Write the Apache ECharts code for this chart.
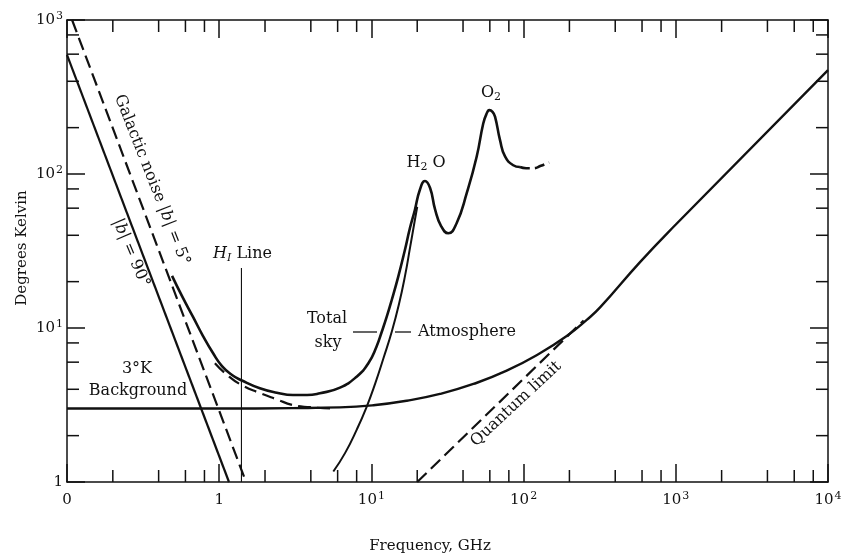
<!DOCTYPE html>
<html>
<head>
<meta charset="utf-8">
<script src="https://cdn.jsdelivr.net/npm/echarts@6/dist/echarts.min.js"></script>
<style>
  html, body { margin: 0; padding: 0; background: #ffffff; }
  #chart { width: 851px; height: 559px; }
</style>
</head>
<body>
<div id="chart"></div>
<script>
// Sky noise temperature versus frequency (log-log).
const INK = '#111111';
const FONT = '"DejaVu Serif", "Liberation Serif", serif';

// Axis ranges: frequency in GHz, temperature in kelvin
const freqRange = [0.1, 10000];
const tempRange = [1, 1000];

// Minor tick positions (2, 4, 6, 8 of every decade)
const xMinorTicks = [0.2, 0.4, 0.6, 0.8, 2, 4, 6, 8, 20, 40, 60, 80,
                     200, 400, 600, 800, 2000, 4000, 6000, 8000];
const yMinorTicks = [2, 4, 6, 8, 20, 40, 60, 80, 200, 400, 600, 800];

// Galactic noise toward the pole, |b| = 90 deg
const galacticPole = [[0.1, 593], [1.16, 1]];

// Galactic noise near the plane, |b| = 5 deg
const galacticPlane = [[0.108, 1000], [1.50, 1]];

// Galactic (|b| = 5 deg) plus 3 K background, no atmosphere
const galacticPlusBackground = [
  [0.937, 5.9], [1.12, 4.98], [1.41, 4.25], [1.85, 3.78],
  [2.39, 3.44], [3.05, 3.16], [3.95, 3.06], [5.35, 3.0]
];

// Total sky temperature including the atmosphere
const totalSky = [
  [0.490, 21.8], [0.570, 16.1], [0.673, 11.8], [0.783, 8.87], [0.910, 6.88],
  [1.043, 5.66], [1.214, 4.95], [1.41, 4.56], [1.85, 4.06], [2.39, 3.80],
  [3.05, 3.67], [3.78, 3.67], [4.59, 3.77], [6.22, 4.10], [8.00, 4.83],
  [9.55, 5.90], [10.8, 7.56], [11.7, 9.46], [12.6, 11.8], [13.6, 15.2],
  [15.0, 21.5], [16.6, 32.1], [17.9, 44.4], [19.3, 58.4], [20.8, 78.7],
  [22.5, 90.1], [24.3, 81.1], [26.2, 59.0], [28.7, 45.9], [32.0, 41.2],
  [36.3, 47.9], [42.3, 75.0], [49.2, 130], [54.3, 213], [57.0, 245],
  [59.6, 260], [62.5, 253], [64.9, 236], [70.0, 166], [75.5, 130],
  [85.5, 114], [94.6, 111]
];
// Uncertain continuation above the oxygen line
const totalSkyTail = [[94.6, 111], [104, 109], [115, 109], [130, 113], [147, 119]];

// Atmospheric emission alone
const atmosphere = [
  [5.62, 1.17], [6.71, 1.54], [8.00, 2.18], [9.31, 3.08], [10.6, 4.37],
  [12.0, 6.36], [13.65, 9.56], [15.18, 14.3], [16.63, 21.8], [17.93, 33.1],
  [19.2, 48.8], [20.0, 61.3]
];

// 3 K background rising into the quantum noise floor
const backgroundCurve = [
  [0.1, 3.0], [1, 3.0], [3, 3.02], [6.2, 3.05], [10.3, 3.15], [17.1, 3.37],
  [28.2, 3.73], [46.8, 4.33], [77.4, 5.28], [128, 6.85], [192, 8.87],
  [260, 11.3], [318, 13.6], [582, 26.8], [1000, 47], [10000, 473]
];

// Quantum limit hf/k
const quantumLimit = [[20, 1], [248, 11.2]];

// Neutral hydrogen 21 cm line
const hiLine = [[1.4, 1], [1.4, 24.5]];

function powerLabel(v) {
  const p = Math.round(Math.log10(v));
  if (p < 0) return '0';
  if (p === 0) return '1';
  return '10{sup|' + p + '}';
}

const labelRich = {
  sup: { fontFamily: FONT, fontSize: 11, color: INK, verticalAlign: 'top', padding: [0, 0, 0, 1] }
};

function axisBase(extra) {
  return Object.assign({
    type: 'log',
    logBase: 10,
    axisLine: { show: true, lineStyle: { color: INK, width: 1.5 } },
    axisTick: { show: true, inside: true, length: 18, lineStyle: { color: INK, width: 1.5 } },
    splitLine: { show: false },
    minorTick: { show: false }
  }, extra);
}

function curve(data, width, dash, smooth) {
  return {
    type: 'line',
    data: data,
    xAxisIndex: 0,
    yAxisIndex: 0,
    showSymbol: false,
    symbol: 'none',
    smooth: smooth,
    silent: true,
    lineStyle: { color: INK, width: width, type: dash || 'solid' },
    z: 3
  };
}

function minorTickSeries(values, horizontal) {
  return {
    type: 'custom',
    xAxisIndex: 0,
    yAxisIndex: 0,
    silent: true,
    z: 6,
    data: values.map(v => horizontal ? [v, tempRange[0]] : [freqRange[0], v]),
    renderItem: function (params, api) {
      const st = { stroke: INK, lineWidth: 1.5 };
      if (horizontal) {
        const b = api.coord([api.value(0), tempRange[0]]);
        const t = api.coord([api.value(0), tempRange[1]]);
        return { type: 'group', children: [
          { type: 'line', shape: { x1: b[0], y1: b[1], x2: b[0], y2: b[1] - 12 }, style: st },
          { type: 'line', shape: { x1: t[0], y1: t[1], x2: t[0], y2: t[1] + 12 }, style: st }
        ] };
      }
      const l = api.coord([freqRange[0], api.value(1)]);
      const r = api.coord([freqRange[1], api.value(1)]);
      return { type: 'group', children: [
        { type: 'line', shape: { x1: l[0], y1: l[1], x2: l[0] + 12, y2: l[1] }, style: st },
        { type: 'line', shape: { x1: r[0], y1: r[1], x2: r[0] - 12, y2: r[1] }, style: st }
      ] };
    }
  };
}

const textBase = { fontFamily: FONT, fontSize: 16, fill: INK, align: 'center', verticalAlign: 'middle' };
const italic = { fontFamily: FONT, fontSize: 16, fontStyle: 'italic', fill: INK };
const sub = { fontFamily: FONT, fontSize: 11, fill: INK, verticalAlign: 'bottom' };
const deg = Math.PI / 180;

function label(x, y, text, extra, rotation) {
  return {
    type: 'text', x: x, y: y, rotation: rotation || 0, silent: true, z: 10,
    style: Object.assign({}, textBase, { text: text }, extra || {})
  };
}

const chart = echarts.init(document.getElementById('chart'), null, { renderer: 'canvas' });

chart.setOption({
  animation: false,
  backgroundColor: '#ffffff',
  grid: { left: 67, right: 23, top: 20, bottom: 77 },
  xAxis: [
    axisBase({
      position: 'bottom', min: freqRange[0], max: freqRange[1],
      axisLabel: { show: true, margin: 9, formatter: powerLabel, fontFamily: FONT, fontSize: 15,
                   color: INK, lineHeight: 19, rich: labelRich, showMinLabel: true, showMaxLabel: true }
    }),
    axisBase({ position: 'top', min: freqRange[0], max: freqRange[1], axisLabel: { show: false } })
  ],
  yAxis: [
    axisBase({
      position: 'left', min: tempRange[0], max: tempRange[1],
      axisLabel: { show: true, margin: 4, formatter: powerLabel, fontFamily: FONT, fontSize: 15,
                   color: INK, lineHeight: 19, rich: labelRich, showMinLabel: true, showMaxLabel: true }
    }),
    axisBase({ position: 'right', min: tempRange[0], max: tempRange[1], axisLabel: { show: false } })
  ],
  series: [
    curve(galacticPole, 2.2, 'solid', false),
    curve(galacticPlane, 2.2, [13, 6], false),
    curve(galacticPlusBackground, 2.2, [13, 6], 0.5),
    curve(totalSky, 2.6, 'solid', 0.5),
    curve(totalSkyTail, 2.6, [10, 5], 0.5),
    curve(atmosphere, 2.0, 'solid', 0.5),
    curve(backgroundCurve, 2.4, 'solid', 0.5),
    curve(quantumLimit, 2.2, [13, 6], false),
    curve(hiLine, 1.1, 'solid', false),
    minorTickSeries(xMinorTicks, true),
    minorTickSeries(yMinorTicks, false)
  ],
  graphic: [
    label(152, 180, 'Galactic noise |{i|b}| = 5°', { rich: { i: italic } }, -68.5 * deg),
    label(131, 253, '|{i|b}| = 90°', { rich: { i: italic } }, -67 * deg),
    label(137, 369, '3°K'),
    label(138, 391, 'Background'),
    label(213, 254, '{i|H}{s|I} Line', { align: 'left', lineHeight: 20,
      rich: { i: Object.assign({}, italic, { lineHeight: 20 }),
              s: Object.assign({}, sub, { fontStyle: 'italic' }) } }),
    label(327, 319, 'Total'),
    label(328, 343, 'sky'),
    { type: 'line', silent: true, shape: { x1: 353, y1: 332, x2: 377, y2: 332 }, style: { stroke: INK, lineWidth: 1.3 } },
    { type: 'line', silent: true, shape: { x1: 395, y1: 332, x2: 411, y2: 332 }, style: { stroke: INK, lineWidth: 1.3 } },
    label(418, 332, 'Atmosphere', { align: 'left' }),
    label(426, 163, 'H{s|2} O', { lineHeight: 20, rich: { s: sub } }),
    label(491, 93, 'O{s|2}', { lineHeight: 20, rich: { s: sub } }),
    label(516, 404, 'Quantum limit', {}, 43 * deg),
    label(430, 546, 'Frequency, GHz', { fontSize: 15 }),
    label(22, 248, 'Degrees Kelvin', { fontSize: 15 }, 90 * deg)
  ]
});
</script>
</body>
</html>
